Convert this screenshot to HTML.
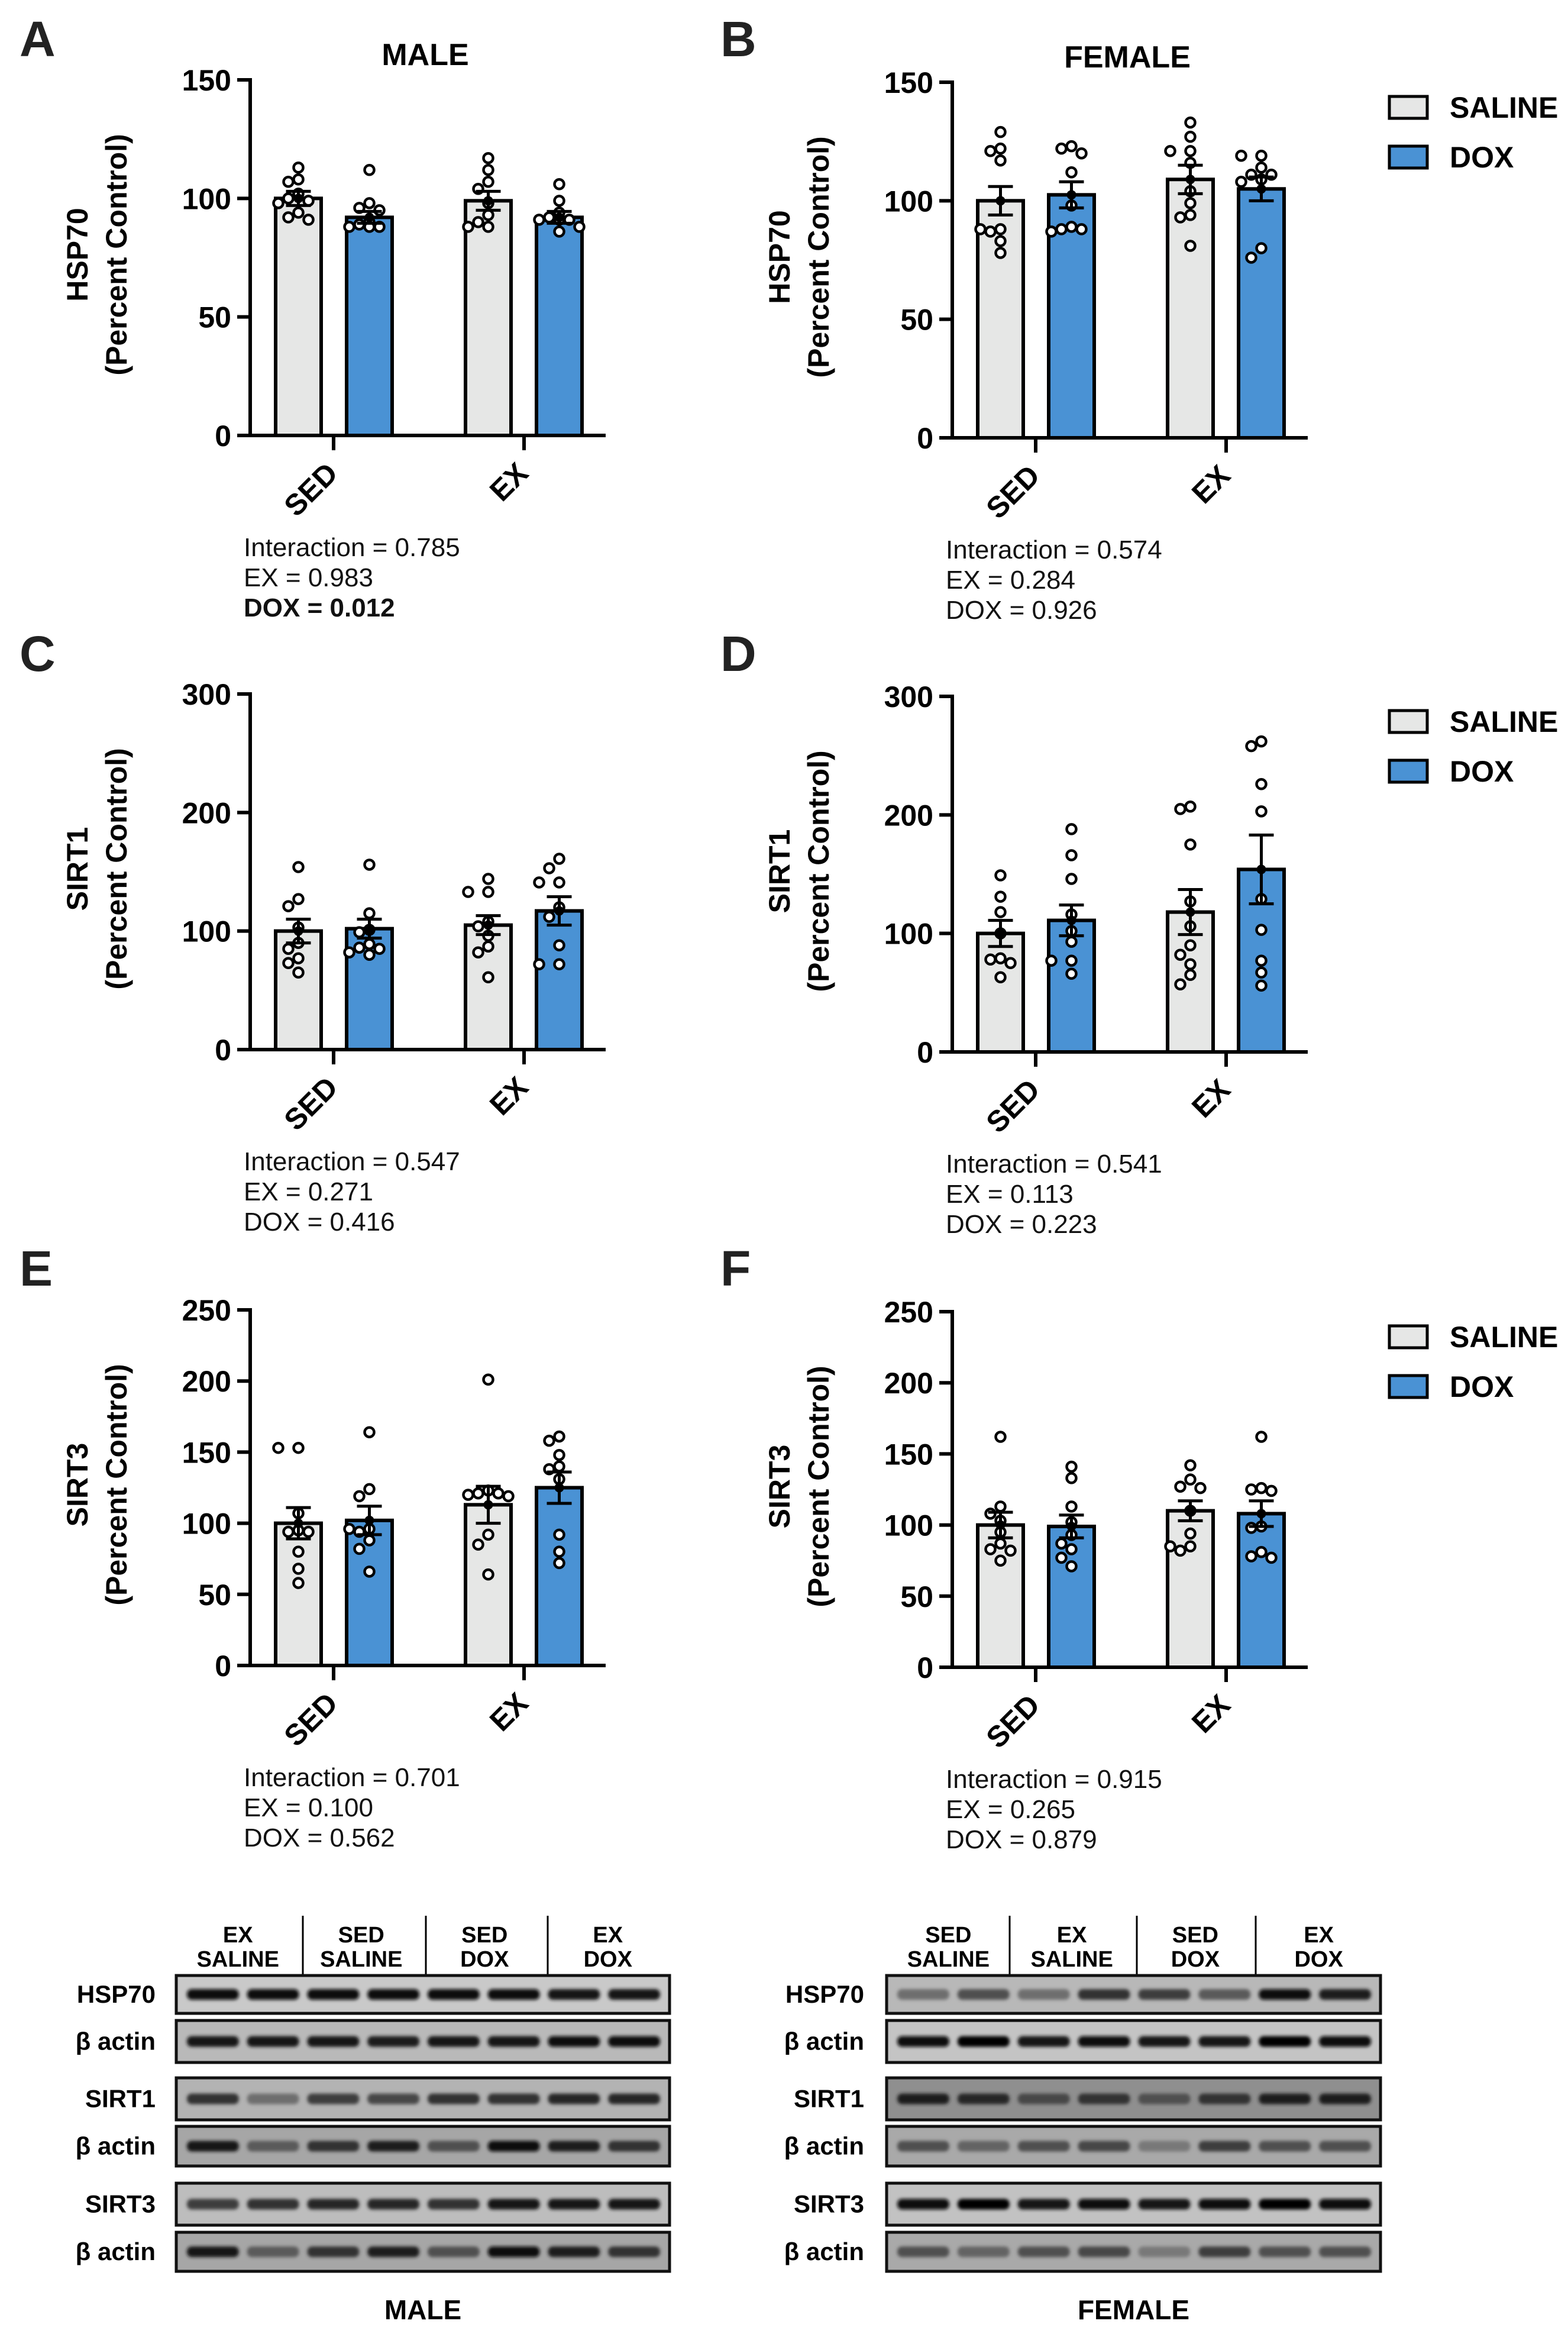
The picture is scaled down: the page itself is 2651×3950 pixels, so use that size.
<!DOCTYPE html>
<html><head><meta charset="utf-8">
<style>
html,body{margin:0;padding:0;background:#fff;}
svg{display:block;}
text{font-family:"Liberation Sans",Arial,sans-serif;}
</style></head>
<body>
<svg id="fig" xmlns="http://www.w3.org/2000/svg" width="2651" height="3950" viewBox="0 0 2651 3950">
<defs>
<filter id="blur" x="-10%" y="-50%" width="120%" height="200%"><feGaussianBlur stdDeviation="3"/></filter>
</defs>
<g id="charts"></g>
<g id="blots"></g>
</svg>
<script>
// ---------- chart data ----------
const groups = ["SED","EX"];
const treatments = ["SALINE","DOX"];
const panelIds = ["A","B","C","D","E","F"];
const yLabels = ["HSP70","HSP70","SIRT1","SIRT1","SIRT3","SIRT3"];
const yMax = [150,150,300,300,250,250];
const yStep = [50,50,100,100,50,50];
// means: [SED-SALINE, SED-DOX, EX-SALINE, EX-DOX]
const meansA = [100,92,99,92];
const semA = [3,2.5,4,2.5];
const meansB = [100,102.5,109,105];
const semB = [6,5.5,6,5];
const meansC = [100,102,105,117];
const semC = [10,8,8,12];
const meansD = [100,111,118,154];
const semD = [11,13,19,29];
const meansE = [100,102,113,125];
const semE = [11,10,13,11];
const meansF = [100,99,110,108];
const semF = [9,8,7,9];
const ptsA = [[113,108,107,102,100,99,98,94,92,91],[112,98,96,95,90,88,88,88,89],[117,112,107,104,98,93,90,88,88],[106,99,94,91,91,91,88,86,92]];
const ptsB = [[129,122,121,117,88,88,87,83,78],[123,122,120,112,98,88,88,87,89],[133,127,121,121,116,104,99,94,93,81],[119,119,114,111,111,109,108,80,76]];
const ptsC = [[154,127,121,103,90,85,77,73,65],[156,115,101,99,89,86,85,80,82],[144,133,133,108,104,96,87,82,61],[161,153,141,141,120,112,88,72,72]];
const ptsD = [[149,131,118,100,79,78,75,63],[188,166,146,116,102,93,77,77,66],[205,207,175,127,106,90,82,74,65,57],[262,258,226,203,129,103,77,67,56]];
const ptsE = [[153,153,107,95,94,94,80,68,58],[164,124,119,96,96,94,88,82,66],[201,123,121,121,120,119,92,85,64],[161,158,148,140,138,131,92,80,72]];
const ptsF = [[162,113,108,103,95,87,83,82,75],[141,133,113,102,93,87,83,77,71],[142,132,126,127,110,94,85,85,82],[162,125,126,124,99,98,81,78,77]];
const statLines = [
 ["Interaction = 0.785","EX = 0.983","DOX = 0.012"],
 ["Interaction = 0.574","EX = 0.284","DOX = 0.926"],
 ["Interaction = 0.547","EX = 0.271","DOX = 0.416"],
 ["Interaction = 0.541","EX = 0.113","DOX = 0.223"],
 ["Interaction = 0.701","EX = 0.100","DOX = 0.562"],
 ["Interaction = 0.915","EX = 0.265","DOX = 0.879"]];
const allMeans=[meansA,meansB,meansC,meansD,meansE,meansF];
const allSem=[semA,semB,semC,semD,semE,semF];
const allPts=[ptsA,ptsB,ptsC,ptsD,ptsE,ptsF];

const NS="http://www.w3.org/2000/svg";
function el(tag,attrs,parent,txt){const e=document.createElementNS(NS,tag);for(const k in attrs)e.setAttribute(k,attrs[k]);if(txt!==undefined)e.textContent=txt;parent.appendChild(e);return e;}
const GRAY="#e6e7e6",BLUE="#4a92d4";
const charts=document.getElementById('charts');
const axisXs=[423,1610];
const tops=[[135,139],[1173,1177],[2214,2217]];
const PH=601, PW=601;
const barOff=[43,163,364,484], BW=77, tickOff=[141,463];

panelIds.forEach((pid,i)=>{
  const col=i%2,row=Math.floor(i/2);
  const ax=axisXs[col], top=tops[row][col], y0=top+PH;
  const ys=v=>y0-v/yMax[i]*PH;
  const g=el('g',{},charts);
  
  
  const L=el('text',{x:col?1218:33,y:95+row*1039,'font-size':84,'font-weight':'bold',fill:'#222'},g,pid);
  
  
  if(row===0){
    const t=el('text',{x:ax+296,y:top-25,'font-size':52,'font-weight':'bold','text-anchor':'middle'},g,col?'FEMALE':'MALE');
    
    
  }
  // y label
  const cy=top+PH/2-5;
  const yl=el('text',{transform:`translate(${ax-275},${cy}) rotate(-90)`,'font-size':50,'font-weight':'bold','text-anchor':'middle'},g);
  
  
  el('tspan',{x:0,y:0},yl,yLabels[i]);
  el('tspan',{x:0,y:66},yl,'(Percent Control)');
  // bars
  allMeans[i].forEach((m,k)=>{
    const bx=ax+barOff[k];
    const r=el('rect',{x:bx,y:ys(m),width:BW,height:y0-ys(m),fill:k%2?BLUE:GRAY,stroke:'#000','stroke-width':6},g);
    
    
  });
  // axes
  const yaxis=el('path',{d:`M${ax},${top-3}V${y0}`,stroke:'#000','stroke-width':6,fill:'none'},g);
  
  
  for(let v=0;v<=yMax[i];v+=yStep[i]){
    el('path',{d:`M${ax-22},${ys(v)}H${ax}`,stroke:'#000','stroke-width':6},g);
    const tl=el('text',{x:ax-32,y:ys(v)+18,'font-size':50,'font-weight':'bold','text-anchor':'end'},g,String(v));
    
    
  }
  const xaxis=el('path',{d:`M${ax-22},${y0}H${ax+PW}`,stroke:'#000','stroke-width':6},g);
  
  
  groups.forEach((gn,k)=>{
    const tx=ax+tickOff[k];
    el('path',{d:`M${tx},${y0}V${y0+25}`,stroke:'#000','stroke-width':6},g);
    const xl=el('text',{transform:`translate(${tx+10},${y0+67}) rotate(-45)`,'font-size':50,'font-weight':'bold','text-anchor':'end'},g,gn);
    
    
  });
  // points, error bars
  allPts[i].forEach((arr,k)=>{
    const cx=ax+barOff[k]+BW/2;
    const placed=[];
    const sorted=arr.slice().sort((a,b)=>b-a);
    sorted.forEach(v=>{
      const py=ys(v);
      const offs=[0,-17,17,-34,34];
      let px=cx;
      for(const o of offs){const x=cx+o; if(placed.every(p=>Math.hypot(p[0]-x,p[1]-py)>17)){px=x;break;}}
      placed.push([px,py]);
      const c=el('circle',{cx:px,cy:py,r:8,fill:'#fff',stroke:'#000','stroke-width':4.5},g);
      
      
    });
    const m=allMeans[i][k], s=allSem[i][k];
    const eb=el('path',{d:`M${cx},${ys(m+s)}V${ys(m-s)}M${cx-21},${ys(m+s)}H${cx+21}M${cx-21},${ys(m-s)}H${cx+21}`,stroke:'#000','stroke-width':5,fill:'none'},g);
    
    
    const md=el('circle',{cx:cx,cy:ys(m),r:8,fill:'#000'},g);
    
    
  });
  // stats
  statLines[i].forEach((s,k)=>{
    const st=el('text',{x:ax-11,y:y0+204+k*51,'font-size':44,'font-weight':(i===0&&k===2)?'bold':'normal',fill:'#111'},g,s);
    
    
  });
  // legend
  if(col===1){
    treatments.forEach((tn,k)=>{
      const ly=top+24+k*84;
      const lb=el('rect',{x:2349,y:ly,width:64,height:37,fill:k?BLUE:GRAY,stroke:'#000','stroke-width':5},g);
      
      
      const lt=el('text',{x:2451,y:ly+36,'font-size':50,'font-weight':'bold'},g,tn);
      
      
    });
  }
});

// ---------- western blots ----------
const blots=document.getElementById('blots');
const rowY=[[3339,3403],[3415,3486],[3512,3583],[3594,3661],[3690,3761],[3773,3839]];
const rowNames=["HSP70","β actin","SIRT1","β actin","SIRT3","β actin"];
const maleHeads=[["EX","SALINE"],["SED","SALINE"],["SED","DOX"],["EX","DOX"]];
const femHeads=[["SED","SALINE"],["EX","SALINE"],["SED","DOX"],["EX","DOX"]];
const maleBg=["#c9c9c9","#b9b9b9","#b3b3b3","#a6a6a6","#bdbdbd","#a6a6a6"];
const femBg=["#b8b8b8","#c4c4c4","#8f8f8f","#a9a9a9","#c2c2c2","#a9a9a9"];
const maleInt=[[0.95,0.95,0.95,0.95,0.95,0.95,0.9,0.9],[0.9,0.9,0.9,0.85,0.9,0.9,0.95,0.95],[0.75,0.45,0.7,0.65,0.75,0.75,0.8,0.8],[0.9,0.55,0.75,0.85,0.6,0.95,0.85,0.75],[0.7,0.75,0.8,0.8,0.75,0.9,0.9,0.9],[0.9,0.55,0.75,0.85,0.6,0.95,0.85,0.75]];
const femInt=[[0.45,0.6,0.45,0.75,0.7,0.55,0.95,0.85],[0.95,0.98,0.9,0.95,0.9,0.9,0.98,0.95],[0.85,0.8,0.65,0.75,0.6,0.75,0.85,0.85],[0.6,0.5,0.6,0.65,0.4,0.7,0.6,0.6],[0.95,0.98,0.9,0.95,0.9,0.95,0.98,0.95],[0.6,0.5,0.6,0.65,0.4,0.7,0.6,0.6]];
function drawBlot(x0,x1,heads,divs,bgs,ints,labelX,title,nm){
  const g=el('g',{},blots);
  
  
  const cw=(x1-x0)/4;
  heads.forEach((h,k)=>{
    const cx=x0+cw*(k+0.5);
    el('text',{x:cx,y:3283,'font-size':38,'font-weight':'bold','text-anchor':'middle'},g,h[0]);
    el('text',{x:cx,y:3324,'font-size':38,'font-weight':'bold','text-anchor':'middle'},g,h[1]);
  });
  divs.forEach(d=>el('path',{d:`M${d},3238V3337`,stroke:'#000','stroke-width':3},g));
  rowY.forEach((r,k)=>{
    el('rect',{x:x0,y:r[0],width:x1-x0,height:r[1]-r[0],fill:bgs[k],stroke:'#111','stroke-width':5},g);
    const lw=(x1-x0-20)/8;
    ints[k].forEach((v,j)=>{
      const bx=x0+12+j*lw;
      const by=(r[0]+r[1])/2-9;
      const shade=Math.round(200*(1-v));
      el('rect',{x:bx+6,y:by,width:lw-14,height:18,rx:8,fill:`rgb(${shade},${shade},${shade})`,filter:'url(#blur)'},g);
    });
    const lab=el('text',{x:labelX,y:(r[0]+r[1])/2+14,'font-size':42,'font-weight':'bold','text-anchor':'end'},g,rowNames[k]);
    
    
  });
  const t=el('text',{x:(x0+x1)/2,y:3920,'font-size':46,'font-weight':'bold','text-anchor':'middle'},g,title);
  
  
}
drawBlot(298,1132,maleHeads,[512,720,926],maleBg,maleInt,263,'MALE','male-western-blot');
drawBlot(1499,2334,femHeads,[1707,1922,2123],femBg,femInt,1461,'FEMALE','female-western-blot');
</script>
</body></html>
